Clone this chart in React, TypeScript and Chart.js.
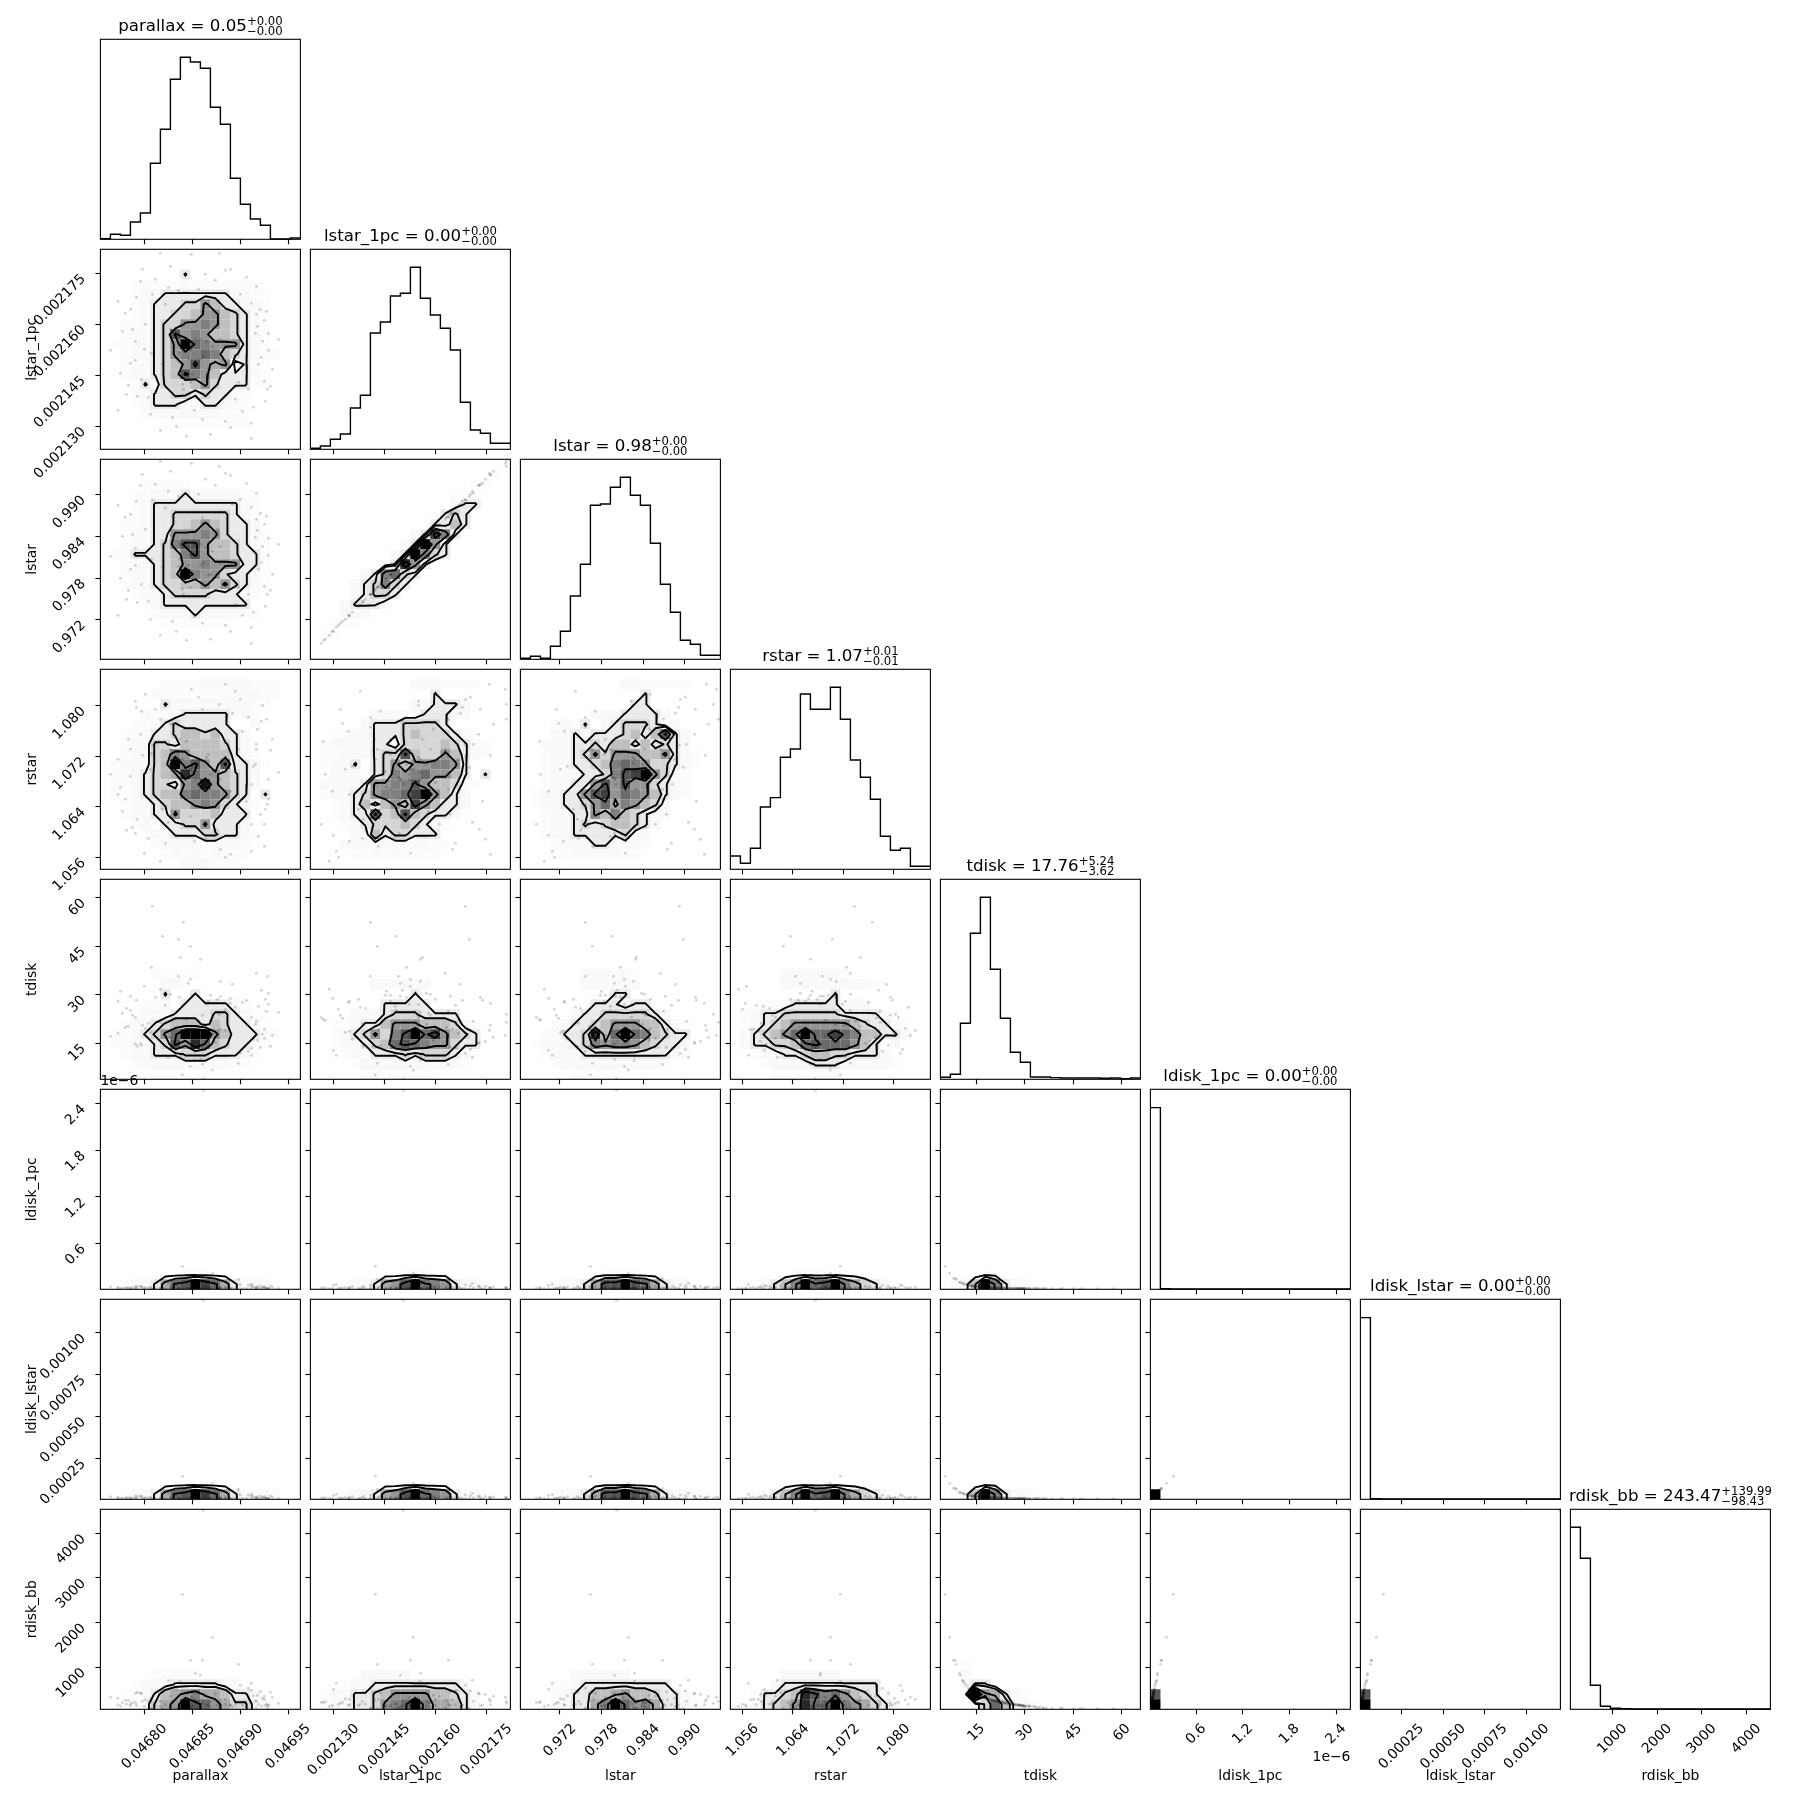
import React, { useEffect, useRef } from 'react';
import { Chart, registerables } from 'chart.js';
Chart.register(...registerables);

// ---------- axes ----------
const names = ['parallax', 'lstar_1pc', 'lstar', 'rstar', 'tdisk', 'ldisk_1pc', 'ldisk_lstar', 'rdisk_bb'];
const axisMin = [0.04675383, 0.00212317, 0.9663, 1.0541, 3.84, 0.0103e-6, 0.0000046, 56];
const axisMax = [0.04696274, 0.00218207, 0.9951, 1.08577, 65.7, 2.585e-6, 0.0012017, 4538];
const tickValues = [
  [0.0468, 0.04685, 0.0469, 0.04695],
  [0.00213, 0.002145, 0.00216, 0.002175],
  [0.972, 0.978, 0.984, 0.99],
  [1.056, 1.064, 1.072, 1.08],
  [15, 30, 45, 60],
  [0.6e-6, 1.2e-6, 1.8e-6, 2.4e-6],
  [0.00025, 0.0005, 0.00075, 0.001],
  [1000, 2000, 3000, 4000],
];
const tickLabels = [
  ['0.04680', '0.04685', '0.04690', '0.04695'],
  ['0.002130', '0.002145', '0.002160', '0.002175'],
  ['0.972', '0.978', '0.984', '0.990'],
  ['1.056', '1.064', '1.072', '1.080'],
  ['15', '30', '45', '60'],
  ['0.6', '1.2', '1.8', '2.4'],
  ['0.00025', '0.00050', '0.00075', '0.00100'],
  ['1000', '2000', '3000', '4000'],
];
const titleMain = ['parallax = 0.05', 'lstar_1pc = 0.00', 'lstar = 0.98', 'rstar = 1.07', 'tdisk = 17.76', 'ldisk_1pc = 0.00', 'ldisk_lstar = 0.00', 'rdisk_bb = 243.47'];
const titleUp = ['+0.00', '+0.00', '+0.00', '+0.01', '+5.24', '+0.00', '+0.00', '+139.99'];
const titleDown = ['\u22120.00', '\u22120.00', '\u22120.00', '\u22120.01', '\u22123.62', '\u22120.00', '\u22120.00', '\u221298.43'];

// ---------- 1-D histograms (20 bins, arbitrary count units) ----------
const histParallax = [2, 15, 12, 52, 79, 228, 330, 480, 546, 532, 513, 396, 345, 183, 105, 61, 42, 1, 1, 4];
const histLstar1pc = [3, 10, 30, 46, 124, 162, 349, 382, 460, 468, 546, 453, 403, 363, 298, 141, 58, 48, 18, 18];
const histLstar = [3, 9, 3, 39, 84, 190, 285, 462, 466, 516, 546, 492, 462, 348, 225, 141, 57, 45, 12, 12];
const histRstar = [40, 18, 63, 187, 215, 336, 361, 526, 480, 480, 546, 450, 328, 276, 210, 99, 57, 63, 9, 9];
const histTdisk = [6, 15, 168, 438, 546, 330, 183, 81, 51, 7, 7, 5, 4, 4, 4, 4, 3, 4, 2, 4];
const histLdisk1pc = [545, 1.5, 1, 1, 1, 1, 1, 1, 1, 1, 1, 1, 1, 1, 1, 1, 1, 1, 1, 1];
const histLdiskLstar = [545, 1.5, 1, 1, 1, 1, 1, 1, 1, 1, 1, 1, 1, 1, 1, 1, 1, 1, 1, 1];
const histRdisk = [546, 453, 72, 9, 3, 2, 1, 1, 1, 1, 1, 1, 1, 1, 1, 1, 1, 1, 1, 1];
const hists = [histParallax, histLstar1pc, histLstar, histRstar, histTdisk, histLdisk1pc, histLdiskLstar, histRdisk];

// ---------- 2-D histograms: [first row from the top, rows of bin levels: . , 1-9 a b c] ----------
type Cells = [number, string[]];
const cellsR1C0: Cells = [2, ['00000000100000000000', '000.....,.......000', '000.,,1111111,,..', '000.,111225311,,.', '000.,1122355321,.', '00..,1225565321,.', '00.,,1285653321,.', '0..,,125c765551,.', '00.,,1256676321,..', '00..,12358545,1..', '00.,,1238653111,.', '000.1,222352111..', '000.,11221211,.', '000.,111,,11,,.', '0000.,,,,,,,...', '000000.........']];
const cellsR2C0: Cells = [2, ['0000.....', '000..,,,1,,,,,..', '000.,111111111,.', '000.,112222221,.', '00..,1122353211,', '00.,,1155565211,.', '00.,,1268853321,.', '0..1112368533211.', '00.,,12355655511.', '00.,,123c655211,.', '00.,,1223353521,.', '000.,,12222111,.', '0000.,111111111', '00000.,,,1,,,,..', '000000.......']];
const cellsR2C1: Cells = [0, ['', '000000000000000000.', '0000000000000000..', '00000000000000...', '00000000000000,11', '0000000000000121', '0000000000001131', '0000000000,1961', '000000000,1c51', '00000000,1c621', '0000000,1a51', '00000,16721', '0000,12621', '0000,1221', '000,111,', '000,,,', '00...', '0..']];
const cellsR3C0: Cells = [1, ['000000....,,,,,...', '00000,.......,,,..', '0000001,,,,,,,,..', '0000,.,,11111,,.', '000..,121111100,', '00..,112332311,', '00.,,221333321,.', '00.,,236533331,.', '0.,,,23c6853811,.', '0..,1234a755321,', '0..,122156b5321,', '0..,1233676652101', '00.,,123356521,.', '00.,,1152223111', '000.,.11225111,', '0000.,.1112211,.', '00000.,,,,,,,,.', '000000.,.,.,...', '00000000,,,...']];
const cellsR3C1: Cells = [1, ['0000000000,,,....', '000000000000100', '0000000000,,111,', '000000,,,,,111,,', '00000,1112222100', '00..,,111232221,.', '0.,,,,11,2222321,.', '0..,,,1228322531,.', '0.,,1012535566510', '00,,,01265675531010', '0,,,,1556685332,.', '0.,,1256679c531,', '00.,13135395311,', '00.,1182383211,', '000.,1222321,.', '0000,,3122111', '000,,,,,,,,,..', '0000..,.,....']];
const cellsR3C2: Cells = [1, ['0000000000,,.....', '0000000000001', '00000000000110', '0000000,,,1111,', '000.,.10,122210,', '000,,1,111231381,', '00,,,11213313121,', '00.,,12525553351,.', '00.,,11236765221,.', '00.,,,112689c52,.', '00.,,1158585521,.', '0.,,11589576531,.', '0.,,1125746532,', '00.,,11536321,,', '00.,,12123321,', '00.,,111112,,', '000.,,,11,,,.', '000..,,,,,..']];
const cellsR4C0: Cells = [9, ['00000.....', '000000,,.', '000000100100', '0000..,011111,.', '000.,,,1111221,..', '00.,,1233313211,', '0..,1257ccc53111,.', '0..,.1285a73211,.', '00.,,111222111,.', '000.,,,,,,,,,..', '00000......']];
const cellsR4C1: Cells = [10, ['000000,,,,,,', '00000000001', '0000000111110', '0000,,,122211110', '00..,1135553332,.', '00.,125268c795321', '00.,,123787655211', '000.,.111212221,.', '0000.,,,,,,,,,,.', '00000.......']];
const cellsR4C2: Cells = [9, ['000000,,,.,.', '000000,,,,,,', '00000000011', '0000000111,11', '00000,11222221,', '000.,1123555331,.', '00.,112a37c763211', '0.,,,12656653211,', '00.,,,111111111,.', '000.,,,,,,,,,,.', '00000.....']];
const cellsR4C3: Cells = [9, ['00000,,,,,,.', '00000,,,,,,,,,.', '00000000001', '000..,11111,,,', '0.,112222221111,.', '0.,1235555553211,.', '0,12357c779763311,', '0,11223787775310,', '00.,,1123322111,', '000.,,,,111,,,,,.', '0000.......']];
const stripC0: Cells = [18, ['00000000...', '00.,,1478c9741,,,.']];
const stripC1: Cells = [18, ['000000000...', '000.,,1458c7651,,.']];
const stripC2: Cells = [18, ['00000000....', '000.,,1488c8741,,.']];
const stripC3: Cells = [18, ['000000....', '00.,136c78c6421,.']];
const stripC4: Cells = [18, ['0000.', '0.,3c61,,.']];
const cornerR6C5: Cells = [19, ['c']];
const cornerR7C5: Cells = [18, ['8', 'c']];
const cornerR7C6: Cells = [18, ['8', 'c']];
const cellsR7C0: Cells = [16, ['00000.....', '000.,,,11111,,.', '00..,1345644311,', '00.,,245c875422,,.']];
const cellsR7C1: Cells = [16, ['00000,,,,,', '000.,,111111111,', '0.,,112355553321,', '0.,,112567c64431,.']];
const cellsR7C2: Cells = [16, ['00000,,,,,,', '000..,1111111110', '000.,11334533211,', '000.,1146c756411,.']];
const cellsR7C3: Cells = [16, ['00000,,,,,,', '0000,1111111111', '00.1123a8675321,', '00,1235a77c65421,']];
const cellsR7C4: Cells = [15, ['00.', '00,', '00,11', '00,c541,.', '000,273,,.']];

const cellGrids: Record<string, Cells> = {
  '1-0': cellsR1C0, '2-0': cellsR2C0, '2-1': cellsR2C1, '3-0': cellsR3C0, '3-1': cellsR3C1, '3-2': cellsR3C2,
  '4-0': cellsR4C0, '4-1': cellsR4C1, '4-2': cellsR4C2, '4-3': cellsR4C3,
  '5-0': stripC0, '5-1': stripC1, '5-2': stripC2, '5-3': stripC3, '5-4': stripC4,
  '6-0': stripC0, '6-1': stripC1, '6-2': stripC2, '6-3': stripC3, '6-4': stripC4, '6-5': cornerR6C5,
  '7-0': cellsR7C0, '7-1': cellsR7C1, '7-2': cellsR7C2, '7-3': cellsR7C3, '7-4': cellsR7C4, '7-5': cornerR7C5, '7-6': cornerR7C6,
};
const contourLevels = [0.9, 1.8, 4.5, 7.5];
const stripLevels = [0.9, 3, 6.5];

const sampleParallax = [5.2, 8.3, 6.2, 7.8, 9, 8, 5.1, 7.8, 15.6, 16.7, 12, 8.8, 8.2, 11.2, 10.2, 13.8, 10.3, 1.75, 2.5, 4, 6, 9.1, 11.9, 12.5, 15.6, 15.1, 16.6, 16.4, 16.8, 16.4, 16.5, 15.1, 15.1, 12.5, 9.4, 7.6, 6, 3.7, 1.75, 2.8, 1, 3.5, 3.5, 3, 15.7, 15.5, 16.8, 4.5, 14, 5, 13.5, 17.2, 2.2, 10.5, 11, 7, 13, 9, 10, 8, 11, 7, 12, 9, 10,
  3.2, 4.1, 15.8, 14.8, 3.6, 16, 7.2, 11.5, 5.5, 14.2, 4.8, 16.2, 2, 17.8, 6.5, 13, 9.8, 10.2, 4.2, 17, 14.6, 3, 15.3, 8.6, 12, 16.1, 2.6, 4.4, 13.2, 6.8, 9.5, 10.8, 7.9, 11.7, 9.2, 10.6];
const sampleLstar1pc = [15.5, 6, 8.6, 15.9, 6.7, 11.2, 9.6, 8.8, 13.5, 6, 11, 9, 6.5, 10.3, 13.8, 6.7, 9.3, 14.8, 13.6, 16.8, 19.6, 19.5, 19.6, 17.9, 16.3, 14.6, 13.8, 12.9, 9.9, 6.8, 4.8, 2.6, 1.1, 2.8, 3.9, 2.3, 1.9, 5.3, 3.9, 6.4, 9.9, 10.8, 8.9, 8.6, 12.3, 11.6, 11.6, 12.5, 15.5, 3.5, 5, 8, 11.8, 17.5, 1.5, 18.3, 18, 10, 9, 11, 8, 12, 9, 10, 11,
  12, 7, 8.5, 6, 15.2, 14, 3.2, 16.9, 17, 3.8, 5.2, 10.8, 7.6, 11, 14.5, 2.2, 16, 3, 18, 6.3, 17.2, 14, 4.2, 1.3, 14.2, 9.2, 5.5, 10, 15, 16.2, 11, 8, 9.6, 12.5, 7.5, 10.8];
const sampleLstar = [15.9, 6.5, 9.2, 16.3, 7.2, 11.6, 10, 9.3, 14, 6.5, 11.3, 9.4, 7, 10.8, 14.2, 7.2, 9.6, 15.4, 14.2, 17.4, 19.8, 19.6, 19.3, 18.6, 16.6, 15.2, 14.3, 13.5, 10.4, 7.3, 5.3, 3.2, 1.6, 3.4, 4.3, 2.8, 2.4, 5.7, 4.4, 6.9, 10.3, 11.1, 9.4, 9, 12.9, 12.2, 12.1, 13, 16, 4, 5.5, 8.5, 12.3, 18, 2, 18.8, 18.4, 10.4, 9.4, 11.4, 8.5, 12.4, 9.5, 10.4, 11.5,
  12.5, 7.5, 9, 6.5, 15.8, 14.6, 3.8, 17.4, 17.5, 4.4, 5.8, 11.3, 8.1, 11.5, 15.1, 2.8, 16.5, 3.6, 18.5, 6.9, 17.6, 14.5, 4.7, 1.9, 14.7, 9.7, 6, 10.5, 15.5, 16.8, 11.4, 8.4, 10, 13, 8, 11.2];
const sampleRstar = [12.4, 14.2, 6, 10.2, 5.3, 13, 11.6, 9.2, 12, 6.5, 10.6, 7, 11, 10, 8, 12, 8.5, 11, 7, 13.5, 15, 18, 16.5, 18.5, 12.5, 8.5, 15, 4.5, 9, 2.3, 6, 1.8, 4.5, 1.2, 2.8, 3.4, 0.8, 5, 7.5, 13, 9.5, 16.8, 3.6, 12, 14, 10.5, 7, 17.5, 17, 10, 17.8, 13, 5.8, 3, 9.5, 14.5, 1.5, 10, 9, 11, 8, 12, 9, 10, 8,
  4.2, 15.8, 3.3, 15.2, 16.2, 5.5, 14.6, 4, 16, 13.8, 3.1, 16.4, 8.2, 9.7, 2.6, 7.8, 17.2, 16, 11.4, 11.9, 6.8, 9.3, 10.3, 12.8, 2, 14.8, 3.9, 1.6, 15.6, 4.7, 9, 11.5, 10.5, 8.7, 9.8, 11.2];
const sampleTdisk = [17.3, 15.7, 14.3, 14, 13.3, 12.2, 11.2, 10.3, 10.6, 10.3, 9.8, 9.6, 0.46, 0.93, 1.5, 1.6, 0.05, 4.6, 5.2, 3.6, 5.7, 4.4, 6.5, 4.9, 5.8, 3.1, 6.8, 4.1, 7.5, 5, 8, 2.4, 6.2, 7, 4.8, 2.9, 9, 3.3, 7.8, 5.3, 4.3, 6.2, 3.5, 6.9, 3.9, 5.5, 8.6, 5.1, 2.6, 4.7, 7.2, 4.4, 6.6, 3.8, 5.9, 4.2, 7.6, 1.3, 2, 2.3, 8.4, 8.5, 8.3, 10, 12,
  6.4, 3.4, 7.3, 2.8, 7.9, 3.2, 6.1, 3.7, 8.2, 7.7, 5.6, 4.5, 8.8, 6.7, 7.4, 8.1, 3, 6.4, 5.4, 3.3, 7.9, 8.3, 4, 6, 5, 8.9, 7.1, 9.3, 9.5, 2.2, 1.9, 7.8, 8.2, 8, 8.4, 7.5];
const sampleLdisk = [0.05, 0.05, 0.06, 0.06, 0.07, 0.07, 0.08, 0.08, 0.08, 0.09, 0.1, 0.1, 2.3, 1.6, 1.1, 1, 19.9, 0.2, 0.15, 0.3, 0.15, 0.2, 0.12, 0.2, 0.15, 0.35, 0.1, 0.25, 0.1, 0.2, 0.08, 0.5, 0.12, 0.1, 0.2, 0.4, 0.08, 0.3, 0.1, 0.18, 0.25, 0.14, 0.3, 0.12, 0.28, 0.15, 0.08, 0.17, 0.45, 0.2, 0.1, 0.22, 0.12, 0.3, 0.15, 0.25, 0.1, 1.1, 0.7, 0.6, 0.08, 0.08, 0.08, 0.06, 0.05,
  0.13, 0.3, 0.1, 0.4, 0.09, 0.33, 0.12, 0.3, 0.08, 0.09, 0.15, 0.2, 0.08, 0.11, 0.09, 0.08, 0.35, 0.12, 0.15, 0.32, 0.09, 0.08, 0.25, 0.13, 0.18, 0.08, 0.1, 0.07, 0.07, 0.6, 0.7, 0.09, 0.08, 0.08, 0.08, 0.09];
const sampleRdisk = [0.05, 0.06, 0.07, 0.08, 0.08, 0.1, 0.1, 0.12, 0.12, 0.12, 0.15, 0.15, 11.5, 7.2, 4.9, 4.5, 19.9, 1.1, 0.9, 1.6, 0.8, 1.2, 0.6, 1, 0.8, 1.9, 0.5, 1.3, 0.45, 1, 0.4, 2.6, 0.7, 0.5, 1, 2, 0.3, 1.7, 0.45, 0.9, 1.2, 0.7, 1.6, 0.55, 1.4, 0.85, 0.35, 0.95, 2.4, 1.05, 0.5, 1.2, 0.65, 1.5, 0.75, 1.3, 0.45, 4.9, 3.4, 2.8, 0.3, 0.28, 0.32, 0.22, 0.15,
  0.65, 1.6, 0.5, 2.1, 0.42, 1.75, 0.7, 1.55, 0.38, 0.44, 0.8, 1.1, 0.33, 0.6, 0.48, 0.4, 1.85, 0.63, 0.82, 1.7, 0.42, 0.38, 1.35, 0.68, 0.95, 0.32, 0.52, 0.3, 0.28, 2.9, 3.6, 0.42, 0.38, 0.4, 0.36, 0.45];
const samples = [sampleParallax, sampleLstar1pc, sampleLstar, sampleRstar, sampleTdisk, sampleLdisk, sampleLdisk, sampleRdisk];

// ---------- layout ----------
const PANEL = 200, PITCH = 210, LEFT = 100.4, TOP = 39.3, MARGIN = 100;
const FONT = '"DejaVu Sans", sans-serif';
const DIGITS: Record<string, number> = { '0': 0, '.': 0.12, ',': 0.3, '1': 1, '2': 2, '3': 3, '4': 4, '5': 5, '6': 6, '7': 7, '8': 8, '9': 9, a: 10, b: 11, c: 12 };

const binToValue = (p: number, b: number) => axisMin[p] + (b * (axisMax[p] - axisMin[p])) / 20;

function cellMatrix(cells: Cells): number[][] {
  const m: number[][] = [];
  for (let r = 0; r < 20; r++) {
    const s = cells[1][r - cells[0]] ?? '';
    const row: number[] = [];
    for (let c = 0; c < 20; c++) row.push(DIGITS[s[c] ?? '0'] ?? 0);
    m.push(row);
  }
  return m;
}

// contour tracing over the cell centres of a histogram
function traceContour(m: number[][], level: number, px: number, py: number) {
  const out: { x: number; y: number }[] = [];
  const val = (r: number, c: number) => m[Math.max(0, Math.min(19, r))][Math.max(0, Math.min(19, c))];
  const push = (a: number[], b: number[]) => {
    out.push({ x: binToValue(px, a[0]), y: binToValue(py, 20 - a[1]) });
    out.push({ x: binToValue(px, b[0]), y: binToValue(py, 20 - b[1]) });
    out.push({ x: NaN, y: NaN });
  };
  for (let r = -1; r < 20; r++) {
    for (let c = -1; c < 20; c++) {
      const tl = val(r, c), tr = val(r, c + 1), br = val(r + 1, c + 1), bl = val(r + 1, c);
      const idx = (tl >= level ? 8 : 0) + (tr >= level ? 4 : 0) + (br >= level ? 2 : 0) + (bl >= level ? 1 : 0);
      if (idx === 0 || idx === 15) continue;
      const x0 = c + 0.5, y0 = r + 0.5;
      const T = [x0 + (level - tl) / (tr - tl), y0];
      const R = [x0 + 1, y0 + (level - tr) / (br - tr)];
      const B = [x0 + (level - bl) / (br - bl), y0 + 1];
      const L = [x0, y0 + (level - tl) / (bl - tl)];
      const centre = (tl + tr + br + bl) / 4 >= level;
      switch (idx) {
        case 1: case 14: push(L, B); break;
        case 2: case 13: push(B, R); break;
        case 3: case 12: push(L, R); break;
        case 4: case 11: push(T, R); break;
        case 6: case 9: push(T, B); break;
        case 7: case 8: push(L, T); break;
        case 5: if (centre) { push(L, T); push(B, R); } else { push(L, B); push(T, R); } break;
        case 10: if (centre) { push(L, B); push(T, R); } else { push(L, T); push(B, R); } break;
      }
    }
  }
  return out;
}

function buildDatasets(r: number, c: number) {
  const ds: any[] = [];
  if (r === c) {
    const pts: { x: number; y: number }[] = [];
    hists[c].forEach((h, i) => {
      pts.push({ x: binToValue(c, i), y: h });
      pts.push({ x: binToValue(c, i + 1), y: h });
    });
    ds.push({ data: pts, showLine: true, pointRadius: 0, borderColor: '#000', borderWidth: 1.4, borderJoinStyle: 'miter', clip: 1, order: 1 });
    return ds;
  }
  const cells = cellGrids[`${r}-${c}`];
  if (cells) {
    const m = cellMatrix(cells);
    const data: { x: number; y: number }[] = [];
    const colors: string[] = [];
    m.forEach((row, ri) => row.forEach((d, ci) => {
      if (!d) return;
      data.push({ x: binToValue(c, ci + 0.5), y: binToValue(r, 19.5 - ri) });
      const g = Math.round(255 * (1 - d / 12));
      colors.push(`rgb(${g},${g},${g})`);
    }));
    ds.push({ data, pointStyle: 'rect', pointRadius: 7.16, pointBorderWidth: 0, pointBackgroundColor: colors, clip: 0, order: 3 });
    if (c < 5) {
      (r === 5 || r === 6 ? stripLevels : contourLevels).forEach((lv) => {
        ds.push({ data: traceContour(m, lv, c, r), showLine: true, spanGaps: false, pointRadius: 0, borderColor: '#000', borderWidth: 1.9, borderCapStyle: 'round', clip: 0, order: 1 });
      });
    }
  }
  const dots = samples[c].map((v, i) => ({ x: binToValue(c, v), y: binToValue(r, samples[r][i]) }));
  ds.push({ data: dots, pointRadius: 1.5, pointBorderWidth: 0, pointBackgroundColor: 'rgba(0,0,0,0.16)', clip: 0, order: 2 });
  return ds;
}

function rotatedLabel(ctx: CanvasRenderingContext2D, text: string, cx: number, cy: number) {
  ctx.save();
  ctx.translate(cx, cy);
  ctx.rotate(-Math.PI / 4);
  ctx.textAlign = 'center';
  ctx.textBaseline = 'middle';
  ctx.fillText(text, 0, 0);
  ctx.restore();
}

function annotate(chart: any, r: number, c: number) {
  const ctx: CanvasRenderingContext2D = chart.ctx;
  const a = chart.chartArea;
  ctx.save();
  ctx.strokeStyle = '#000';
  ctx.lineWidth = 1.1;
  ctx.strokeRect(a.left, a.top, a.right - a.left, a.bottom - a.top);
  ctx.fillStyle = '#000';
  ctx.font = `13.9px ${FONT}`;
  const GAP = 13.5;
  if (r === 7) {
    tickValues[c].forEach((v, i) => {
      const w = ctx.measureText(tickLabels[c][i]).width;
      const box = (w + 10) * Math.SQRT1_2;
      rotatedLabel(ctx, tickLabels[c][i], chart.scales.x.getPixelForValue(v), a.bottom + GAP + box / 2);
    });
    ctx.textAlign = 'center';
    ctx.textBaseline = 'alphabetic';
    ctx.fillText(names[c], (a.left + a.right) / 2, a.bottom + 71);
    if (c === 5) {
      ctx.textAlign = 'right';
      ctx.fillText('1e\u22126', a.right, a.bottom + 52);
    }
  }
  if (c === 0 && r > 0) {
    tickValues[r].forEach((v, i) => {
      const w = ctx.measureText(tickLabels[r][i]).width;
      const box = (w + 10) * Math.SQRT1_2;
      rotatedLabel(ctx, tickLabels[r][i], a.left - GAP - box / 2, chart.scales.y.getPixelForValue(v) + box / 2);
    });
    ctx.save();
    ctx.translate(a.left - 68, (a.top + a.bottom) / 2);
    ctx.rotate(-Math.PI / 2);
    ctx.textAlign = 'center';
    ctx.textBaseline = 'middle';
    ctx.fillText(names[r], 0, 0);
    ctx.restore();
  }
  if (r === 5 && c === 0) {
    ctx.textAlign = 'left';
    ctx.textBaseline = 'alphabetic';
    ctx.fillText('1e\u22126', a.left, a.top - 4);
  }
  if (r === c) {
    ctx.font = `16.67px ${FONT}`;
    const mainW = ctx.measureText(titleMain[c]).width;
    ctx.font = `11.67px ${FONT}`;
    const supW = Math.max(ctx.measureText(titleUp[c]).width, ctx.measureText(titleDown[c]).width);
    const x0 = (a.left + a.right) / 2 - (mainW + supW) / 2;
    ctx.textAlign = 'left';
    ctx.textBaseline = 'alphabetic';
    ctx.font = `16.67px ${FONT}`;
    ctx.fillText(titleMain[c], x0, a.top - 8.6);
    ctx.font = `11.67px ${FONT}`;
    ctx.fillText(titleUp[c], x0 + mainW, a.top - 14);
    ctx.fillText(titleDown[c], x0 + mainW, a.top - 4);
  }
  ctx.restore();
}

function Panel({ r, c }: { r: number; c: number }) {
  const ref = useRef<HTMLCanvasElement>(null);
  const px = LEFT + c * PITCH;
  const py = TOP + r * PITCH;
  const x0 = Math.floor(px) - MARGIN;
  const y0 = Math.floor(py) - MARGIN;
  const size = PANEL + 2 * MARGIN + 2;
  useEffect(() => {
    const padL = px - x0;
    const padT = py - y0;
    const tickSetup = (p: number) => ({
      afterBuildTicks: (s: any) => { s.ticks = tickValues[p].map((value) => ({ value })); },
      ticks: { display: false, autoSkip: false },
      border: { display: false },
      grid: { drawOnChartArea: false, drawTicks: true, tickLength: 5, tickColor: '#000', tickWidth: 1.1 },
    });
    const chart = new Chart(ref.current as HTMLCanvasElement, {
      type: 'scatter',
      data: { datasets: buildDatasets(r, c) },
      options: {
        animation: false,
        responsive: false,
        devicePixelRatio: 1,
        events: [],
        layout: { padding: { left: padL, top: padT, right: size - padL - PANEL, bottom: size - padT - PANEL } },
        plugins: { legend: { display: false }, tooltip: { enabled: false } },
        scales: {
          x: { type: 'linear', min: axisMin[c], max: axisMax[c], afterFit: (s: any) => { s.height = 0; }, ...tickSetup(c) },
          y: r === c
            ? { type: 'linear', min: 0, max: 600, display: false }
            : { type: 'linear', min: axisMin[r], max: axisMax[r], afterFit: (s: any) => { s.width = 0; }, ...tickSetup(r) },
        },
      } as any,
      plugins: [{ id: 'cornerFrame', afterDraw: (ch: any) => annotate(ch, r, c) }],
    });
    return () => chart.destroy();
  }, []);
  return <canvas ref={ref} width={size} height={size} style={{ position: 'absolute', left: x0, top: y0, width: size, height: size }} />;
}

export default function App() {
  const panels: { r: number; c: number }[] = [];
  for (let r = 0; r < 8; r++) for (let c = 0; c <= r; c++) panels.push({ r, c });
  return (
    <div style={{ position: 'absolute', left: 0, top: 0, width: 1809, height: 1809, overflow: 'hidden', background: '#fff' }}>
      {panels.map((p) => <Panel key={`${p.r}-${p.c}`} r={p.r} c={p.c} />)}
    </div>
  );
}
